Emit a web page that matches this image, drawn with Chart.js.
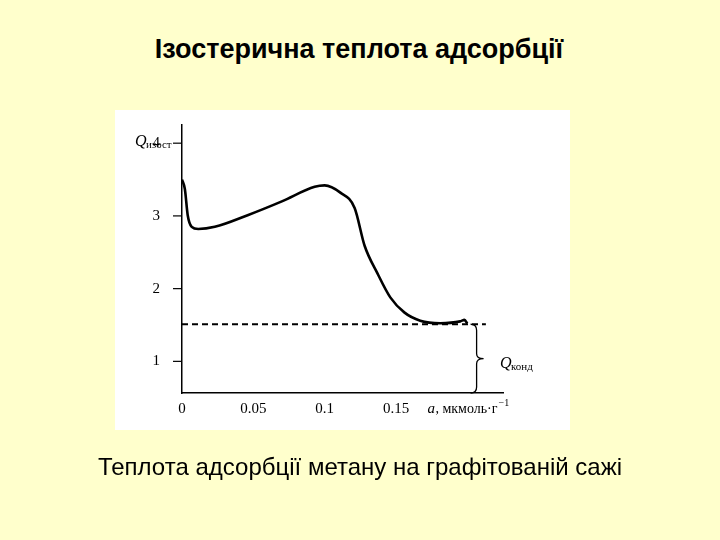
<!DOCTYPE html>
<html><head><meta charset="utf-8">
<script src="https://cdn.jsdelivr.net/npm/chart.js@4"></script>
<style>
html,body{margin:0;padding:0;background:#FFFFCC;width:720px;height:540px;overflow:hidden;font-family:"Liberation Sans",Arial,sans-serif}
#box{position:absolute;left:115px;top:110px;width:455px;height:320px;background:#fff}
#c{position:absolute;left:0;top:0}
.t{position:absolute;left:0;width:720px;text-align:center;color:#000;line-height:1}
</style></head><body>
<div class="t" style="top:36px;font-size:27px;font-weight:bold;left:-1px">Ізостерична теплота адсорбції</div>
<div id="box"></div>
<canvas id="c" width="720" height="540"></canvas>
<div class="t" style="top:455px;font-size:24px;">Теплота адсорбції метану на графітованій сажі</div>
<script>
const xValues=[0,0.002,0.004,0.0068,0.0114,0.023,0.046,0.07,0.093,0.1,0.111,0.121,0.128,0.137,0.146,0.156,0.167,0.181,0.195,0.198,0.2];
const qValues=[3.5,3.37,3.01,2.85,2.82,2.85,3.01,3.2,3.40,3.42,3.32,3.11,2.59,2.21,1.88,1.67,1.56,1.525,1.55,1.57,1.52];
const yTicks=[1,2,3,4];
const xTicks=[0,0.05,0.1,0.15];
const xTickLabels=["0","0.05","0.1","0.15"];
const qCond=1.51, dashEnd=0.213;
const overlay={id:'overlay',afterDraw(ch){
 const c=ch.ctx,x=ch.scales.x,y=ch.scales.y;
 c.save();c.fillStyle='#000';c.strokeStyle='#000';c.lineWidth=1.2;
 c.font='15px "Liberation Serif",serif';c.textAlign='right';c.textBaseline='middle';
 yTicks.forEach(v=>{const p=y.getPixelForValue(v);c.beginPath();c.moveTo(x.left-9,p);c.lineTo(x.left,p);c.stroke();c.fillText(String(v),x.left-22,p);});
 c.textAlign='center';c.textBaseline='top';
 xTicks.forEach((v,i)=>c.fillText(xTickLabels[i],x.getPixelForValue(v),y.bottom+9));
 const ax=x.getPixelForValue(0.172);
 c.font='italic 15px "Liberation Serif",serif';c.textAlign='left';
 c.fillText('a',ax,y.bottom+9);
 c.font='14px "Liberation Serif",serif';
 const s=', мкмоль·г';c.fillText(s,ax+8,y.bottom+9);const w=c.measureText(s).width;
 c.font='10px "Liberation Serif",serif';c.fillText('−1',ax+8+w+1,y.bottom+5);
 c.font='italic 16px "Liberation Serif",serif';c.textBaseline='alphabetic';
 c.fillText('Q',135,146);c.font='11px "Liberation Serif",serif';c.fillText('изост',146,148);
 c.font='italic 16px "Liberation Serif",serif';c.fillText('Q',500,368);c.font='11px "Liberation Serif",serif';c.fillText('конд',511,370);
 const bx=x.getPixelForValue(0.2065),t=y.getPixelForValue(qCond),b=y.bottom,m=(t+b)/2;
 c.lineWidth=1.3;c.beginPath();c.moveTo(bx-6,t);c.quadraticCurveTo(bx,t,bx,t+6);c.lineTo(bx,m-5);c.quadraticCurveTo(bx,m,bx+7,m);
 c.quadraticCurveTo(bx,m,bx,m+5);c.lineTo(bx,b-6);c.quadraticCurveTo(bx,b,bx-6,b);c.stroke();
 c.restore();}};
new Chart(document.getElementById('c'),{type:'scatter',
 data:{datasets:[
  {data:xValues.map((v,i)=>({x:v,y:qValues[i]})),showLine:true,borderColor:'#000',borderWidth:2.6,pointRadius:0,tension:0.4,cubicInterpolationMode:'monotone'},
  {data:[{x:0,y:qCond},{x:dashEnd,y:qCond}],showLine:true,borderColor:'#000',borderWidth:1.8,borderDash:[6,4],pointRadius:0}
 ]},
 plugins:[overlay],
 options:{responsive:false,animation:false,devicePixelRatio:1,
  layout:{padding:{left:174,right:217,top:125,bottom:139}},
  plugins:{legend:{display:false},tooltip:{enabled:false}},
  scales:{
   x:{type:'linear',min:0,max:0.225,ticks:{display:false},grid:{display:false},border:{color:'#000',width:1.5}},
   y:{type:'linear',min:0.565,max:4.25,ticks:{display:false},grid:{display:false},border:{color:'#000',width:1.5}}
  }}});
</script></body></html>
